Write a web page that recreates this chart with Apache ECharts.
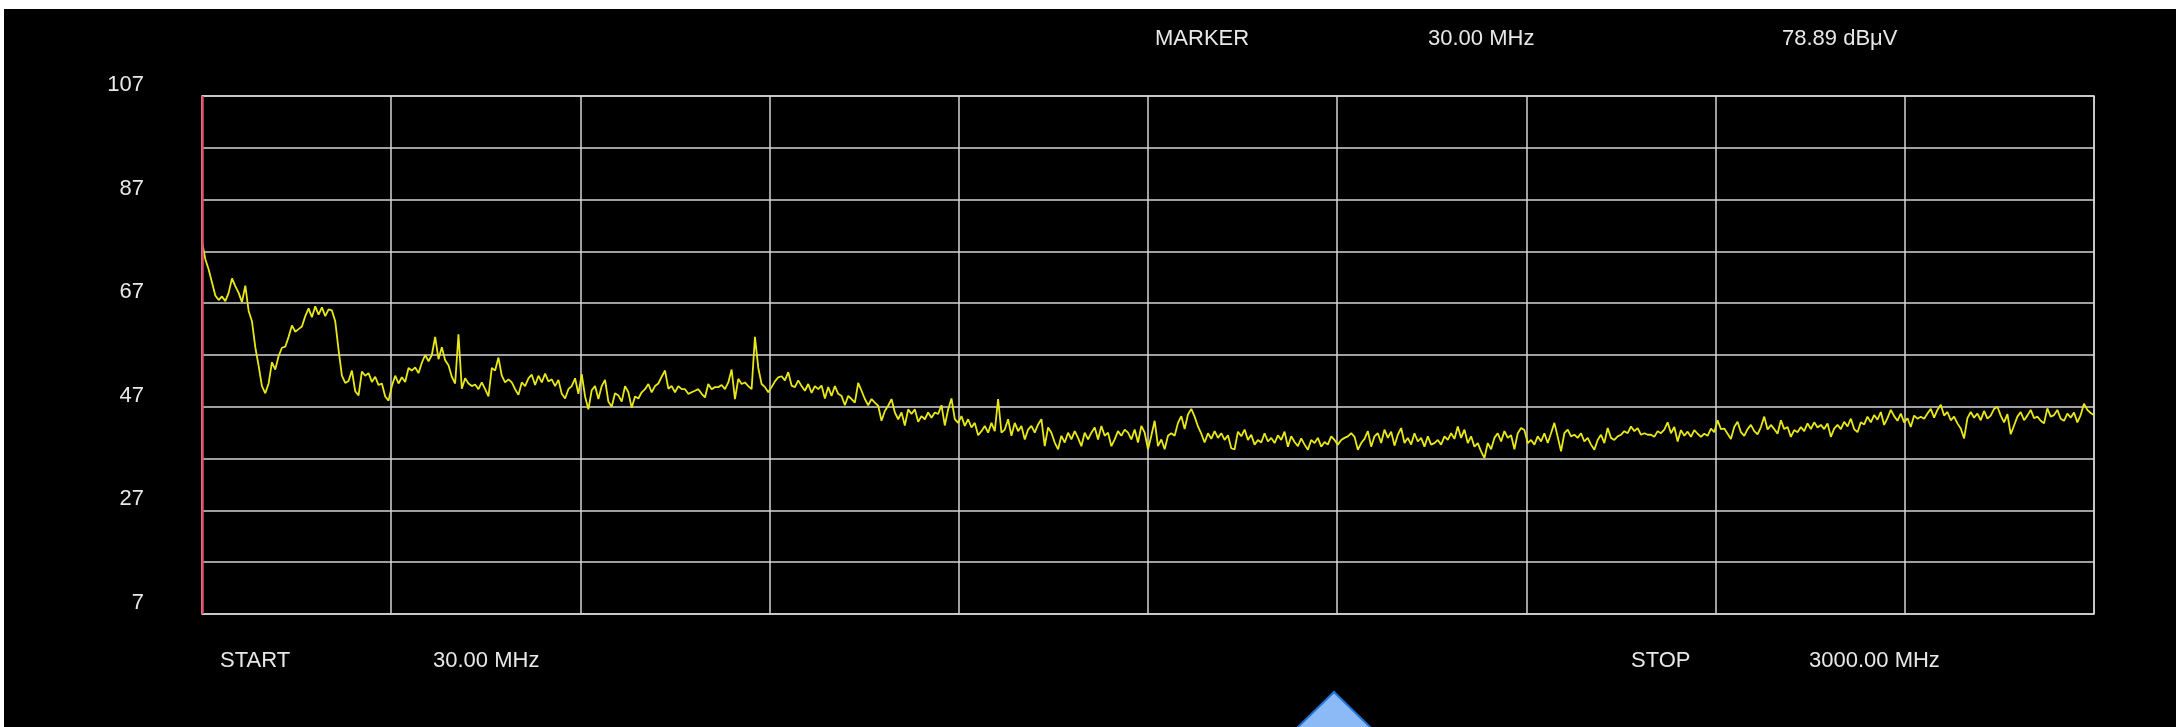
<!DOCTYPE html>
<html>
<head>
<meta charset="utf-8">
<script src="https://cdn.jsdelivr.net/npm/echarts@6/dist/echarts.min.js"></script>
<style>
html,body{margin:0;padding:0;background:#fff;overflow:hidden;}
#c{width:2176px;height:727px;}
</style>
</head>
<body>
<div id="c"></div>
<script>
// ---- data ----
const startMHz = 30.00;
const stopMHz = 3000.00;
const markerMHz = 30.00;
const yTickLabels = ['7', '27', '47', '67', '87', '107'];
const levels = [
78.89, 75.5, 73.5, 71.0, 68.5, 67.6, 68.3, 67.4, 69.0, 71.8,
70.3, 69.0, 67.2, 70.4, 65.5, 63.5, 58.5, 54.9, 51.0, 49.6,
51.5, 55.6, 54.2, 56.8, 58.4, 58.6, 60.5, 62.7, 61.5, 62.0,
62.5, 64.5, 66.0, 64.3, 66.4, 64.8, 66.2, 64.5, 65.8, 65.6,
63.5, 58.0, 53.0, 51.6, 52.0, 54.0, 50.0, 49.2, 53.8, 53.0,
53.5, 51.8, 52.8, 51.2, 51.5, 49.0, 48.2, 51.0, 53.0, 51.5,
52.7, 51.8, 54.5, 54.0, 54.6, 53.5, 55.5, 57.0, 55.8, 57.0,
60.5, 56.2, 58.5, 56.0, 55.0, 52.8, 51.5, 61.0, 50.5, 52.5,
51.5, 51.0, 51.3, 50.4, 51.7, 50.4, 49.0, 54.5, 54.0, 56.5,
53.0, 51.7, 52.3, 51.7, 50.4, 49.3, 51.7, 51.0, 52.5, 53.2,
51.2, 53.0, 51.7, 53.4, 51.9, 52.3, 51.0, 52.2, 49.5, 48.6,
50.4, 51.0, 52.5, 49.5, 53.3, 49.0, 46.5, 50.2, 51.0, 48.5,
51.0, 52.2, 48.0, 47.0, 49.6, 49.2, 48.0, 51.0, 49.8, 46.8,
49.0, 48.6, 49.8, 50.4, 51.4, 49.8, 51.0, 51.5, 52.8, 54.0,
50.5, 51.0, 49.8, 51.0, 50.4,
50.4, 49.5, 49.8, 50.1, 50.4, 49.5, 48.8, 51.4, 50.4, 50.8,
50.8, 51.2, 50.4, 51.7, 54.2, 48.5, 52.4, 51.4, 51.7, 51.0,
50.4, 60.5, 54.5, 51.4, 50.8, 49.8, 50.8, 51.9, 52.7, 52.9,
52.1, 53.7, 51.1, 50.8, 52.1, 51.0, 50.1, 51.4, 49.7, 51.0,
50.4, 51.1, 48.6, 50.8, 49.1, 51.0, 49.5, 49.1, 47.3, 49.1,
48.5, 47.8, 51.6, 50.1, 48.5, 47.3, 48.5, 47.8, 47.2, 44.3,
46.2, 47.2, 48.5, 45.9, 44.6, 45.9, 43.4, 46.5, 45.6, 46.5,
44.1, 45.2, 44.6, 45.9, 44.9, 45.9, 45.6, 47.3, 43.4, 46.5,
48.6, 44.6, 43.9, 45.2, 43.3, 44.6, 43.0, 43.9, 41.5, 42.3,
43.3, 42.0, 43.9, 42.3, 48.5, 42.0, 42.6, 44.6, 41.4, 43.9,
42.3, 43.3, 40.7, 42.6, 43.3, 42.0, 43.6, 44.6, 39.4, 43.0,
42.0, 40.1, 38.8, 41.4, 40.1, 42.0, 40.7, 42.3, 41.0, 39.4,
42.0, 40.7, 42.0, 43.0, 40.7, 43.3, 41.4, 42.0, 39.4, 40.7,
42.3, 41.4, 42.6, 42.0, 40.7, 42.6, 40.1, 43.3, 42.0, 38.8,
41.4, 44.3, 39.4, 40.7, 38.8, 41.4,
41.9, 41.4, 43.9, 45.2, 42.7, 45.5, 46.6, 45.1, 43.2, 41.8,
40.1, 41.9, 40.8, 42.3, 41.0, 41.9, 40.6, 41.5, 39.0, 38.8,
42.2, 41.3, 42.6, 40.6, 41.6, 39.7, 40.6, 40.1, 41.9, 40.3,
41.0, 40.0, 41.5, 40.6, 42.2, 39.3, 41.3, 40.2, 39.4, 40.9,
39.7, 38.7, 40.6, 40.0, 41.0, 39.3, 40.2, 39.7, 41.3, 40.6,
39.7, 40.6, 41.0, 41.3, 41.9, 41.2, 38.7, 40.0, 40.8, 42.3,
39.3, 41.3, 41.9, 40.0, 42.6, 41.0, 42.2, 39.5, 41.6, 42.9,
40.0, 41.0, 39.7, 41.9, 40.3, 41.0, 39.3, 41.3, 39.7, 40.0,
40.6, 39.7, 41.3, 40.6, 41.9, 40.8, 43.2, 41.0, 42.6, 40.0,
41.3, 39.3, 40.0, 38.4, 37.1, 40.0, 38.8, 41.0, 41.9, 40.3,
42.3, 41.0, 41.5, 38.8, 41.9, 42.9, 42.5, 40.0, 40.6, 39.7,
41.3, 40.3, 41.9, 40.0, 41.9, 43.9, 41.2, 38.4, 41.9, 42.6,
41.3, 41.6, 41.0, 41.9, 40.3, 41.0, 39.7, 38.7, 40.6, 41.6,
40.0, 42.9, 41.0, 40.6, 41.3, 41.6, 42.3, 41.9, 43.2, 42.3,
42.9, 41.6,
41.9, 41.6, 41.6, 41.2, 42.3, 41.9, 42.6, 44.0, 41.9, 43.1,
40.3, 42.5, 41.4, 42.2, 41.2, 42.5, 41.8, 41.2, 41.8, 41.4,
42.8, 42.1, 44.4, 42.7, 42.8, 41.8, 40.8, 43.1, 44.1, 42.1,
41.4, 42.7, 43.5, 42.3, 41.7, 43.1, 45.1, 42.6, 43.5, 42.7,
41.8, 44.4, 42.7, 43.1, 41.2, 42.5, 42.1, 43.1, 42.3, 43.8,
42.7, 44.0, 43.0, 43.5, 42.7, 43.8, 41.2, 42.8, 43.5, 42.7,
44.1, 43.2, 44.7, 42.7, 42.1, 44.0, 43.6, 45.1, 44.0, 45.4,
44.5, 46.0, 43.5, 44.8, 46.4, 45.2, 44.3, 45.7, 44.0, 44.8,
43.1, 45.3, 44.7, 45.1, 44.7, 45.7, 46.6, 44.9, 46.4, 47.4,
45.3, 46.0, 44.4, 45.1, 43.8, 42.8, 40.9, 44.8, 46.0, 44.9,
45.7, 44.4, 46.2, 44.7, 45.3, 46.6, 47.0, 45.3, 44.0, 45.6,
41.7, 43.4, 45.1, 46.0, 44.4, 45.3, 46.4, 44.8, 45.1, 44.3,
43.8, 46.7, 45.1, 45.4, 46.4, 44.7, 44.3, 45.7, 44.9, 45.9,
44.0, 45.4, 47.6, 46.4, 45.8, 45.4
];
// sweep points evenly spaced between start and stop
const freqs = levels.map((_, i) => startMHz + i * (stopMHz - startMHz) / (levels.length - 1));
const markerLevel = levels[0];

// ---- chart ----
const chart = echarts.init(document.getElementById('c'), null, { renderer: 'canvas' });
const gridColor = '#d4d4d4';
const textColor = '#e8e8e8';
const fontFamily = '"Liberation Sans", Arial, sans-serif';
const fontSize = 22;
const font = fontSize + 'px ' + fontFamily;

function txt(x, y, s) {
  return { type: 'text', x: x, y: y, z: 20,
    style: { text: s, fill: textColor, font: font, textVerticalAlign: 'middle', textAlign: 'left' } };
}

const option = {
  backgroundColor: '#ffffff',
  animation: false,
  grid: { left: 202, right: 82, top: 96, bottom: 113, show: true, borderColor: gridColor, borderWidth: 1.5, backgroundColor: 'transparent' },
  xAxis: [
    { type: 'value', min: startMHz, max: stopMHz, show: false },
    { type: 'value', min: 0, max: 10, interval: 1, position: 'bottom',
      axisLine: { show: false }, axisTick: { show: false }, axisLabel: { show: false },
      splitLine: { show: true, lineStyle: { color: gridColor, width: 1.5 } } }
  ],
  yAxis: [
    { type: 'value', min: 7, max: 107, show: false },
    { type: 'value', min: 0, max: 100, interval: 10, position: 'left',
      axisLine: { show: false }, axisTick: { show: false },
      splitLine: { show: true, lineStyle: { color: gridColor, width: 1.5 } },
      axisLabel: { margin: 58, color: textColor, fontSize: fontSize, fontFamily: fontFamily,
        verticalAlign: 'bottom', padding: [0, 0, 0, 0],
        formatter: v => (v % 20 === 0 ? yTickLabels[v / 20] : '') } }
  ],
  series: [{
    type: 'line', xAxisIndex: 0, yAxisIndex: 0,
    data: freqs.map((f, i) => [f, levels[i]]),
    showSymbol: false, symbol: 'none', z: 5,
    lineStyle: { color: '#e8e818', width: 1.8 },
    markLine: { silent: true, symbol: 'none', label: { show: false }, z: 6,
      lineStyle: { color: '#e0506e', width: 2.5, type: 'solid' },
      data: [{ xAxis: markerMHz }] }
  }],
  graphic: [
    { type: 'rect', z: -10, shape: { x: 4, y: 9, width: 2172, height: 718 }, style: { fill: '#000000' } },
    txt(1155, 39, 'MARKER'),
    txt(1428, 39, markerMHz.toFixed(2) + ' MHz'),
    txt(1782, 39, markerLevel.toFixed(2) + ' dBμV'),
    txt(220, 661, 'START'),
    txt(433, 661, startMHz.toFixed(2) + ' MHz'),
    txt(1631, 661, 'STOP'),
    txt(1809, 661, stopMHz.toFixed(2) + ' MHz'),
    { type: 'polygon', z: 30, shape: { points: [[1297, 728], [1334, 692], [1371, 728]] },
      style: { fill: '#8cbaf6', stroke: '#2273d8', lineWidth: 2 } }
  ]
};
chart.setOption(option);
</script>
</body>
</html>
